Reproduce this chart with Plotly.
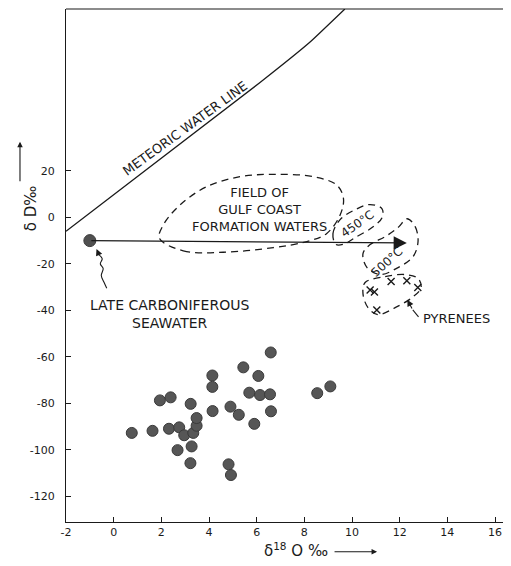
import plotly.graph_objects as go

# ---- data ----
sample_d18o = [0.76, 1.63, 1.94, 2.39, 2.32, 2.75, 2.96, 3.34, 3.48, 3.48, 3.23, 3.27, 2.68, 3.22,
               4.14, 4.14, 4.15, 4.90, 5.25, 5.44, 5.69, 6.07, 6.14, 6.56, 6.59, 6.60, 5.90, 4.82,
               4.92, 8.54, 9.09]
sample_dD = [-92.7, -91.8, -78.7, -77.4, -90.9, -90.3, -93.7, -92.7, -89.6, -86.3, -80.2, -98.5,
             -100.1, -105.7, -68.0, -72.9, -83.3, -81.4, -84.9, -64.5, -75.4, -68.2, -76.4, -76.1,
             -58.1, -83.4, -88.8, -106.2, -110.8, -75.6, -72.7]

seawater_d18o = [-1.0]
seawater_dD = [-10.0]

pyrenees_d18o = [10.76, 10.94, 11.64, 12.30, 12.76, 11.04]
pyrenees_dD = [-31.2, -32.1, -27.6, -27.3, -30.2, -39.8]

mwl_d18o = [-2.0, 6.14, 8.24, 9.7]
mwl_dD = [-6.0, 58.0, 75.4, 89.6]

gulf_x = [1.92, 2.92, 4.60, 6.70, 8.10, 8.94, 9.50, 9.64, 9.36, 8.38, 6.70, 5.30, 3.90, 2.78, 2.08, 1.92]
gulf_y = [-9.0, -14.4, -15.0, -13.0, -10.4, -6.9, 1.0, 8.2, 13.9, 17.5, 18.5, 17.5, 13.2, 5.3, -3.3, -9.0]

t450_x = [9.33, 9.20, 9.50, 10.13, 10.76, 11.26, 11.26, 10.84, 10.13, 9.71, 9.33]
t450_y = [-11.7, -7.0, -1.0, 3.3, 5.5, 3.7, -0.1, -4.4, -8.7, -11.3, -11.7]

t500_x = [12.31, 12.65, 12.77, 12.56, 11.93, 11.18, 10.63, 10.46, 10.76, 11.39, 11.93, 12.31]
t500_y = [-0.6, -4.0, -10.4, -16.9, -21.6, -24.6, -21.6, -15.6, -11.7, -8.3, -4.4, -0.6]

pyr_x = [10.55, 11.39, 12.23, 12.77, 12.90, 12.52, 11.81, 11.09, 10.67, 10.46, 10.55]
pyr_y = [-28.0, -25.5, -24.6, -26.3, -30.2, -34.5, -38.8, -41.8, -38.8, -32.8, -28.0]

squiggle_x = [-0.29, -0.40, -0.52, -0.44, -0.56, -0.48, -0.62]
squiggle_y = [-30.5, -28.0, -25.0, -22.0, -20.0, -17.8, -16.0]

pyr_leader_x = [12.79, 12.55]
pyr_leader_y = [-42.8, -39.8]

arrow_end = (12.3, -11.0)

x_ticks = [-2, 0, 2, 4, 6, 8, 10, 12, 14, 16]
y_ticks = [-120, -100, -80, -60, -40, -20, 0, 20]

FONT = "DejaVu Sans"
INK = "#1a1a1a"
DASH = "7px,5px"

fig = go.Figure()

fig.add_trace(go.Scatter(x=mwl_d18o, y=mwl_dD, mode="lines",
                         line=dict(color=INK, width=1.3, shape="spline", smoothing=0.3),
                         hoverinfo="skip", showlegend=False))

for xs, ys in [(gulf_x, gulf_y), (t450_x, t450_y), (t500_x, t500_y), (pyr_x, pyr_y)]:
    fig.add_trace(go.Scatter(x=xs, y=ys, mode="lines",
                             line=dict(color=INK, width=1.3, dash=DASH, shape="spline", smoothing=1.0),
                             hoverinfo="skip", showlegend=False))

fig.add_trace(go.Scatter(x=squiggle_x, y=squiggle_y, mode="lines",
                         line=dict(color=INK, width=1.1, shape="spline"),
                         hoverinfo="skip", showlegend=False))
fig.add_trace(go.Scatter(x=pyr_leader_x, y=pyr_leader_y, mode="lines",
                         line=dict(color=INK, width=1.1, shape="spline"),
                         hoverinfo="skip", showlegend=False))

fig.add_trace(go.Scatter(x=sample_d18o, y=sample_dD, mode="markers",
                         marker=dict(size=11, color="#565656", line=dict(color="#3a3a3a", width=1)),
                         showlegend=False))
fig.add_trace(go.Scatter(x=seawater_d18o, y=seawater_dD, mode="markers",
                         marker=dict(size=12, color="#505050", line=dict(color="#3a3a3a", width=1)),
                         showlegend=False))
fig.add_trace(go.Scatter(x=pyrenees_d18o, y=pyrenees_dD, mode="markers",
                         marker=dict(size=7, symbol="x-thin", color=INK, line=dict(color=INK, width=1.4)),
                         showlegend=False))

ann = []
# main arrow
ann.append(dict(x=arrow_end[0], y=arrow_end[1], ax=seawater_d18o[0], ay=seawater_dD[0],
                xref="x", yref="y", axref="x", ayref="y", showarrow=True, arrowhead=2,
                arrowsize=2.2, arrowwidth=1.2, arrowcolor=INK, text=""))
# squiggle arrowhead
ann.append(dict(x=-0.72, y=-13.6, ax=-0.62, ay=-16.0, xref="x", yref="y", axref="x", ayref="y",
                showarrow=True, arrowhead=2, arrowsize=1.2, arrowwidth=1.1, arrowcolor=INK, text=""))
# pyrenees leader arrowhead
ann.append(dict(x=12.32, y=-35.4, ax=12.55, ay=-39.8, xref="x", yref="y", axref="x", ayref="y",
                showarrow=True, arrowhead=2, arrowsize=1.2, arrowwidth=1.1, arrowcolor=INK, text=""))

def label(text, x, y, size=12, angle=0, xanchor="center", **kw):
    d = dict(text=text, x=x, y=y, xref="x", yref="y", showarrow=False, textangle=angle,
             xanchor=xanchor, yanchor="middle", font=dict(family=FONT, size=size, color=INK))
    d.update(kw)
    ann.append(d)

label("METEORIC WATER LINE", 2.99, 38.2, size=13, angle=-36)
label("FIELD OF<br>GULF COAST<br>FORMATION WATERS", 6.1, 3.5, size=13)
label("450°C", 10.22, -3.0, size=12, angle=-35)
label("500°C", 11.46, -19.0, size=12, angle=-42)
label("LATE CARBONIFEROUS<br>SEAWATER", 2.36, -41.4, size=14)
label("PYRENEES", 12.88, -43.4, size=13, xanchor="left")

# axis titles
ann.append(dict(text="δ D‰", x=-0.1034, y=3.9, xref="paper", yref="y", showarrow=False,
                textangle=-90, font=dict(family=FONT, size=15, color=INK)))
ann.append(dict(text="", x=-0.1034, y=32.5, xref="paper", yref="y", ax=0, ay=41,
                showarrow=True, arrowhead=2, arrowsize=1, arrowwidth=1.1, arrowcolor=INK))
ann.append(dict(text="δ<sup>18</sup> O ‰", x=7.65, y=-0.055, xref="x", yref="paper", showarrow=False,
                yanchor="middle", font=dict(family=FONT, size=15, color=INK)))
ann.append(dict(text="", x=11.05, y=-0.058, xref="x", yref="paper", ax=-44, ay=0,
                showarrow=True, arrowhead=2, arrowsize=1, arrowwidth=1.1, arrowcolor=INK))

# page body adds an 8px offset, so the figure is laid out 8px left/up of the target
fig.update_layout(
    width=503, height=558,
    margin=dict(l=58, r=0, t=1, b=44),
    paper_bgcolor="white", plot_bgcolor="white",
    annotations=ann,
    shapes=[dict(type="line", xref="paper", yref="paper", x0=0, x1=1, y0=1, y1=1,
                 line=dict(color=INK, width=1.2))],
    showlegend=False,
)
fig.update_xaxes(range=[-2, 16.67], tickvals=x_ticks, ticktext=[str(v) for v in x_ticks],
                 showgrid=False, zeroline=False, showline=True, linecolor=INK, linewidth=1.2,
                 ticks="inside", ticklen=5, tickcolor=INK, tickwidth=1,
                 tickfont=dict(family=FONT, size=11, color=INK))
fig.update_yaxes(range=[-131.0, 89.6], tickvals=y_ticks, ticktext=[str(v) for v in y_ticks],
                 showgrid=False, zeroline=False, showline=True, linecolor=INK, linewidth=1.2,
                 ticks="inside", ticklen=5, tickcolor=INK, tickwidth=1, ticklabelstandoff=8,
                 tickfont=dict(family=FONT, size=11, color=INK))

fig.write_html("out.html")
